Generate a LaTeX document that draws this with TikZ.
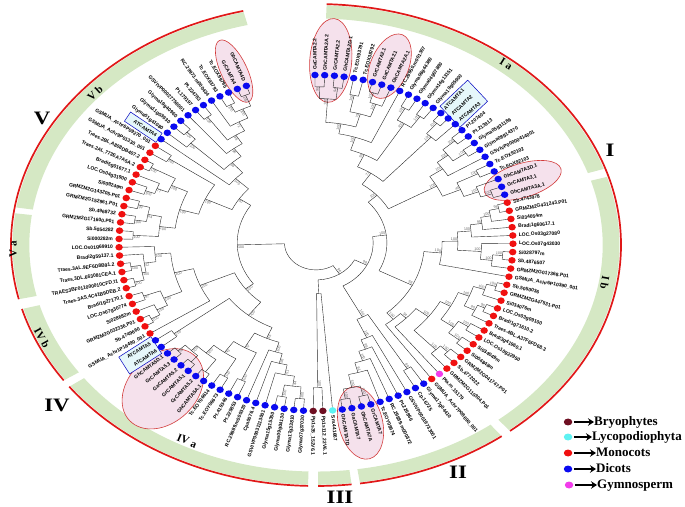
\documentclass[tikz,border=0pt]{standalone}
\usepackage{fontspec}
\setmainfont{Liberation Serif}
\newfontfamily\labfont{Liberation Sans}
\usetikzlibrary{shapes.geometric,arrows.meta}

\definecolor{dic}{HTML}{0A0AF0}
\definecolor{mon}{HTML}{F01010}
\definecolor{bry}{HTML}{6E0F22}
\definecolor{lyc}{HTML}{5EF2F2}
\definecolor{gym}{HTML}{F23CEB}
\definecolor{bandgreen}{HTML}{D5E8C4}
\definecolor{ringred}{HTML}{E01818}
\definecolor{hlpink}{HTML}{F5E1EC}
\definecolor{hlred}{HTML}{D23A3A}
\definecolor{boxcyan}{HTML}{E6F7FA}

\tikzset{
  branch/.style={line width=.4pt, black!85},
  leaf/.style={font=\labfont\bfseries\fontsize{5}{6}\selectfont, inner sep=0pt},
  boot/.style={font=\labfont\fontsize{3.7}{4}\selectfont, text=black!60, inner sep=.5pt},
  hlell/.style={ellipse, draw=hlred, line width=.6pt, fill=hlpink, inner sep=0pt},
  atbox/.style={rectangle, draw=blue!75!black, line width=.5pt, fill=boxcyan, inner sep=0pt},
  grouplab/.style={font=\bfseries\fontsize{19}{20}\selectfont, xscale=1.2},
  bandlab/.style={font=\bfseries\fontsize{11}{12}\selectfont},
  legdot/.style={ellipse, minimum width=8.5pt, minimum height=7pt, inner sep=0pt},
  legtext/.style={font=\bfseries\fontsize{13}{14}\selectfont, inner sep=0pt, anchor=west, text height=8.5pt, text depth=2.5pt},
  legarrow/.style={-{Stealth[length=6pt,width=7.5pt]}, line width=2pt, shorten <=1.5pt},
}

% leaf i sits at angle 90.3-2.83(i-1) on the tip ellipse
\newcommand\leafang[1]{\pgfmathsetmacro\angA{90.3-2.83*((#1)-1)}}
\newcommand\radang{%
  \pgfmathsetmacro\angR{atan2(168*sin(\angA),197*cos(\angA))}%
  \pgfmathtruncatemacro\flipQ{abs(\angR)>92?1:0}}
\newcount\bootno
% clade: first child pos, last child pos, radius, parent radius, bootstrap
\newcommand\clade[5]{%
  \pgfmathsetmacro\angP{90.3-2.83*((#1)-1)}%
  \pgfmathsetmacro\angQ{90.3-2.83*((#2)-1)}%
  \pgfmathsetmacro\angA{(\angP+\angQ)/2}%
  \radang
  \global\advance\bootno by 1
  \draw[branch] (\angP:#3) arc[start angle=\angP, end angle=\angQ, radius=#3];
  \draw[branch] (\angA:#4) -- (\angA:#3);
  \ifnum\flipQ=0
    \node[boot, rotate=\angR, anchor=south east] (bt\the\bootno) at (\angA:#3) {#5};
  \else
    \node[boot, rotate=\angR+180, anchor=north west] (bt\the\bootno) at (\angA:#3) {#5};
  \fi}
\newcommand\hilite[5]{%
  \leafang{#1}\radang
  \path (\angA:1) ++(\angR:#2pt) node[hlell, rotate=\angR, minimum width=2*#3pt, minimum height=2*#4pt] (#5) {};}
\newcommand\atcambox[4]{%
  \leafang{#1}\radang
  \ifnum\flipQ=0
    \node[atbox, rotate=\angR, anchor=west, minimum width=#2pt, minimum height=#3pt] (#4) at (\angA:1.012) {};
  \else
    \node[atbox, rotate=\angR+180, anchor=east, minimum width=#2pt, minimum height=#3pt] (#4) at (\angA:1.012) {};
  \fi}
\newcommand\band[2]{\fill[bandgreen] (#1:.995) arc[start angle=#1, end angle=#2, radius=.995] -- (#2:.94) arc[start angle=#2, end angle=#1, radius=.94] -- cycle;}
\newcommand\redarc[2]{\draw[ringred, line width=1.7pt] (#1:1) arc[start angle=#1, end angle=#2, radius=1];}

\begin{document}
\begin{tikzpicture}[x=1pt,y=1pt]
\useasboundingbox (0,0) rectangle (685,506);

% outer ring
\begin{scope}[shift={(316,261)}, x=305pt, y=241pt]
\band{88}{18.5} \band{16.5}{-50.5} \band{-52.5}{-81.7} \band{-83.3}{-89.6}
\band{-91.5}{-144} \band{-145.8}{-164.6} \band{-167}{-187.6} \band{-189}{-256.2}
\redarc{88}{-50.5} \redarc{-52.5}{-81.7} \redarc{-83.3}{-89.6}
\redarc{-91.5}{-144} \redarc{-145.8}{-164.6} \redarc{-167}{-256.2}
\end{scope}

% tree
\begin{scope}[shift={(316,263)}, x=197pt, y=168pt]
\hilite{2.5}{15}{42}{21}{hlA}
\hilite{8}{20}{34}{19}{hlB}
\hilite{26}{22}{40}{17}{hlC}
\hilite{60.5}{16}{37}{22}{hlD}
\hilite{79.5}{30}{46}{34}{hlE}
\hilite{120.5}{18}{34}{13}{hlF}
\atcambox{16}{38}{29}{boxA}
\atcambox{83.5}{38}{20}{boxB}
\atcambox{110}{38}{11}{boxC}

% group I a
\clade{1}{2}{.93}{.86}{99}
\clade{3}{4}{.93}{.86}{94}
\clade{1.5}{3.5}{.86}{.72}{100}
\clade{5}{6}{.90}{.80}{100}
\clade{7}{8}{.94}{.88}{100}
\clade{7.5}{9}{.88}{.80}{100}
\clade{5.5}{8.25}{.80}{.72}{75}
\clade{2.5}{6.875}{.72}{.66}{100}
\clade{4.6875}{10}{.66}{.58}{100}
\clade{11}{12}{.92}{.84}{100}
\clade{13}{14}{.92}{.84}{100}
\clade{11.5}{13.5}{.84}{.58}{100}
\clade{7.34375}{12.5}{.58}{.50}{98}
\clade{15}{16}{.94}{.86}{100}
\clade{15.5}{17}{.86}{.50}{100}
\clade{9.921875}{16.25}{.50}{.42}{73}
\clade{18}{19}{.93}{.85}{100}
\clade{20}{21}{.93}{.85}{100}
\clade{18.5}{20.5}{.85}{.78}{100}
\clade{19.5}{22}{.78}{.70}{100}
\clade{23}{24}{.92}{.80}{100}
\clade{26}{27}{.94}{.88}{100}
\clade{25}{26.5}{.88}{.80}{100}
\clade{23.5}{25.75}{.80}{.70}{40}
\clade{20.75}{24.625}{.70}{.42}{100}
\clade{13.0859}{22.6875}{.42}{.36}{100}
% group I b
\clade{28}{29}{.95}{.90}{98}
\clade{28.5}{30}{.90}{.85}{100}
\clade{29.25}{31}{.85}{.79}{95}
\clade{30.125}{32}{.79}{.72}{100}
\clade{34}{35}{.95}{.90}{100}
\clade{34.5}{36}{.90}{.84}{100}
\clade{33}{35.25}{.84}{.72}{100}
\clade{31.0625}{34.125}{.72}{.64}{100}
\clade{32.59375}{37}{.64}{.55}{100}
\clade{38}{39}{.95}{.90}{100}
\clade{38.5}{40}{.90}{.84}{100}
\clade{41}{42}{.94}{.90}{98}
\clade{41.5}{43}{.90}{.84}{80}
\clade{39.25}{42.25}{.84}{.78}{100}
\clade{44}{45}{.92}{.86}{100}
\clade{46}{47}{.93}{.86}{100}
\clade{44.5}{46.5}{.86}{.78}{100}
\clade{40.75}{45.5}{.78}{.72}{100}
\clade{48}{49}{.93}{.88}{100}
\clade{48.5}{50}{.88}{.72}{100}
\clade{43.125}{49.25}{.72}{.64}{100}
\clade{46.1875}{51}{.64}{.60}{94}
\clade{48.59375}{52}{.60}{.55}{100}
\clade{34.796875}{50.296875}{.55}{.36}{98}
\clade{17.8867}{42.5469}{.36}{.29}{100}
% group II
\clade{53}{54}{.88}{.50}{89}
\clade{59}{60}{.94}{.88}{100}
\clade{61}{62}{.94}{.88}{100}
\clade{59.5}{61.5}{.88}{.80}{100}
\clade{58}{60.5}{.80}{.74}{61}
\clade{57}{59.25}{.74}{.68}{100}
\clade{56}{58.125}{.68}{.62}{89}
\clade{55}{57.0625}{.62}{.50}{100}
\clade{53.5}{56.03125}{.50}{.29}{100}
% group III and backbone
\clade{64}{65}{.86}{.30}{100}
\clade{63}{64.5}{.30}{.22}{}
\clade{30.2168}{54.7656}{.29}{.22}{98}
\clade{42.4912}{63.75}{.22}{.16}{96}
% group IV
\clade{66}{67}{.93}{.86}{100}
\clade{68}{69}{.93}{.86}{100}
\clade{66.5}{68.5}{.86}{.80}{44}
\clade{67.5}{70}{.80}{.74}{51}
\clade{68.75}{71}{.74}{.68}{96}
\clade{69.875}{72}{.68}{.62}{100}
\clade{73}{74}{.90}{.72}{100}
\clade{75}{76}{.92}{.80}{100}
\clade{77}{78}{.95}{.86}{}
\clade{79}{80}{.95}{.90}{}
\clade{81}{82}{.95}{.90}{59}
\clade{79.5}{81.5}{.90}{.86}{100}
\clade{77.5}{80.5}{.86}{.80}{100}
\clade{75.5}{79}{.80}{.72}{43}
\clade{73.5}{77.25}{.72}{.62}{57}
\clade{70.9375}{75.375}{.62}{.55}{55}
\clade{83}{84}{.90}{.55}{100}
\clade{73.15625}{83.5}{.55}{.45}{100}
\clade{86}{87}{.95}{.90}{100}
\clade{86.5}{88}{.90}{.84}{100}
\clade{89}{90}{.93}{.84}{97}
\clade{87.25}{89.5}{.84}{.74}{100}
\clade{91}{92}{.95}{.90}{100}
\clade{93}{94}{.95}{.90}{100}
\clade{91.5}{93.5}{.90}{.88}{100}
\clade{92.5}{95}{.88}{.82}{42}
\clade{93.75}{96}{.82}{.74}{100}
\clade{88.375}{94.875}{.74}{.64}{100}
\clade{85}{91.625}{.64}{.45}{100}
\clade{78.328125}{88.3125}{.45}{.40}{100}
% group V
\clade{97}{98}{.93}{.80}{100}
\clade{99}{100}{.93}{.87}{100}
\clade{101}{102}{.93}{.87}{99}
\clade{99.5}{101.5}{.87}{.80}{64}
\clade{97.5}{100.5}{.80}{.72}{100}
\clade{103}{104}{.92}{.87}{100}
\clade{103.5}{105}{.87}{.81}{77}
\clade{106}{107}{.95}{.81}{100}
\clade{104.25}{106.5}{.81}{.72}{100}
\clade{99}{105.375}{.72}{.62}{100}
\clade{108}{109}{.90}{.62}{100}
\clade{102.1875}{108.5}{.62}{.47}{100}
\clade{120}{121}{.95}{.88}{100}
\clade{118}{119}{.93}{.88}{100}
\clade{118.5}{120.5}{.88}{.82}{100}
\clade{117}{119.5}{.82}{.76}{72}
\clade{115}{116}{.93}{.76}{100}
\clade{115.5}{118.25}{.76}{.70}{98}
\clade{114}{116.875}{.70}{.64}{96}
\clade{112}{113}{.93}{.87}{100}
\clade{111}{112.5}{.87}{.64}{100}
\clade{111.75}{115.4375}{.64}{.56}{95}
\clade{110}{113.59375}{.56}{.47}{100}
\clade{105.34375}{111.796875}{.47}{.40}{90}
\clade{83.3203}{108.5703}{.40}{.16}{100}
\clade{53.1206}{95.9453}{.16}{.16}{}

% leaves: index/name/colour/parent radius
\foreach \i/\nm/\col/\rp in {
1/GaCAMTA2.2/dic/.93, 2/GhCAMTA2A.2/dic/.93, 3/GrCAMTA2.2/dic/.93, 4/GhCAMTA2D.1/dic/.93,
5/Tc.EOX93791/dic/.90, 6/Tc.EOX38792/dic/.90, 7/GrCAMTA2.1/dic/.94, 8/GaCAMTA2.1/dic/.94,
9/GhCAMTA2A.1/dic/.88, 10/RC.29950.m001307/dic/.66, 11/Glyma06g44380/dic/.92, 12/Glyma04g07880/dic/.92,
13/Glyma14g13151/dic/.92, 14/Glyma19g05900/dic/.92, 15/ATCAMTA1/dic/.94, 16/ATCAMTA2/dic/.94,
17/ATCAMTA3/dic/.86, 18/Pt.207404/dic/.93, 19/Pt.213913/dic/.93, 20/Glyma05g31186/dic/.93,
21/Glyma08g14370/dic/.93, 22/GSVIVP00000414001/dic/.78, 23/Tc.EOX92102/dic/.92, 24/Tc.EOX92103/dic/.92,
25/GhCAMTA3D.1/dic/.88, 26/GrCAMTA3.1/dic/.94, 27/GhCAMTA3A.1/dic/.94,
28/Sb.4743978/mon/.95, 29/GRMZM2G431243.P01/mon/.95, 30/Si034054m/mon/.90, 31/Bradi1g60617.1/mon/.85,
32/LOC.Os03g27080/mon/.79, 33/LOC.Os07g43030/mon/.84, 34/Si028797m/mon/.95, 35/Sb.4876507/mon/.95,
36/GRMZM2G017368.P01/mon/.90, 37/GSMUA\_Achr6P10390\_001/mon/.64, 38/Sb.5050036/mon/.95,
39/GRMZM2G447531.P01/mon/.95, 40/Si034076m/mon/.90, 41/LOC.Os03g09100/mon/.94, 42/Bradi1g71610.2/mon/.94,
43/Traes.4BL.A37F6FD68.3/mon/.90, 44/Bradi3g41960.1/mon/.92, 45/LOC.Os10g22950/mon/.92,
46/Si034049m/mon/.93, 47/Si004848m/mon/.93, 48/GRMZM2G041747.P01/mon/.93, 49/Sb.4772022/mon/.93,
50/GRMZM2G110304.P01/mon/.88, 51/Pta.m.15179/gym/.64, 52/GSMUA\_Achr7P08690\_001/mon/.60,
53/Glyma17g04410/dic/.88, 54/Cp.16725/dic/.88, 55/GSVIVP00019733001/dic/.62, 56/Pt.226866/dic/.68,
57/RC.29889.m000372/dic/.74, 58/Tc.EOY08674/dic/.80, 59/GrCAMTA7/dic/.94, 60/GhCAMTA7A/dic/.94,
61/GaCAMTA7/dic/.94, 62/GhCAMTA7D/dic/.94,
63/Sm.441667/lyc/.30, 64/Pp1s112\_22V6.1/bry/.86, 65/Pp1s35\_152V6.1/bry/.86,
66/Glyma07g37030/dic/.93, 67/Glyma17g33810/dic/.93, 68/Glyma09g04130/dic/.93, 69/Glyma15g15350/dic/.93,
70/GSVIVP00031113001/dic/.80, 71/Cpa0076.4/dic/.74, 72/RC.29889.m000320/dic/.68, 73/Pt.225853/dic/.90,
74/Pt.419346/dic/.90, 75/Tc.EOY06673/dic/.92, 76/Tc.EOY06614/dic/.92, 77/GhCAMTA5A.1/dic/.95,
78/GrCAMTA5.2/dic/.95, 79/GrCAMTA5.1/dic/.95, 80/GaCAMTA5.2/dic/.95, 81/GrCAMTA5.3/dic/.95,
82/GhCAMTA5D.1/dic/.95, 83/ATCAMTA6/dic/.90, 84/ATCAMTA5/dic/.90,
85/GSMUA\_Achr1P16490\_001/mon/.64, 86/Sb.4749660/mon/.95, 87/GRMZM2G032336.P01/mon/.95,
88/Si028682m/mon/.90, 89/LOC.Os07g30774/mon/.93, 90/Bradi1g27170.1/mon/.93,
91/Traes.3AS.4C41B9DEB.2/mon/.95, 92/TRAES3BF011000010CFD.t1/mon/.95, 93/Traes.3DL.663081CEA.1/mon/.95,
94/Traes.3AL.9EF6D8B91.2/mon/.95, 95/Bradi2g59137.1/mon/.88, 96/LOC.Os01g69910/mon/.82,
97/Si000282m/mon/.93, 98/Sb.5054282/mon/.93, 99/GRMZM2G171600.P01/mon/.93, 100/Sb.4968732/mon/.93,
101/GRMZM2G152961.P01/mon/.93, 102/GRMZM2G143205.P01/mon/.93, 103/Si009249m/mon/.92,
104/LOC.Os04g31900/mon/.92, 105/Bradi5g01677.1/mon/.87, 106/Traes.2AL.773EA7A5A.2/mon/.95,
107/Traes.2BL.A808DB407.2/mon/.95, 108/GSMUA\_Achr9P01330\_001/mon/.90, 109/GSMUA\_Achr6P09270\_001/mon/.90,
110/ATCAMTA4/dic/.56, 111/Glyma01g41080/dic/.87, 112/Glyma11g03930/dic/.93, 113/Glyma19g40960/dic/.93,
114/GSVIVP00027756001/dic/.70, 115/Pt.179197/dic/.93, 116/Pt.224783/dic/.93, 117/RC.29973.m000434/dic/.82,
118/Tc.EOX93793/dic/.93, 119/Tc.EOX99795/dic/.93, 120/GrCAMTA4/dic/.95, 121/GhCAMTA4D/dic/.95}{
  \leafang{\i}\radang
  \draw[branch] (\angA:\rp) -- (\angA:1);
  \fill[\col] (\angA:1) ellipse[x radius=3.7pt, y radius=3.3pt];
  \ifnum\flipQ=0
    \node[leaf, rotate=\angR, anchor=west] (l\i) at (\angA:1.03) {\nm};
  \else
    \node[leaf, rotate=\angR+180, anchor=east] (l\i) at (\angA:1.03) {\nm};
  \fi
}
\end{scope}

% group names
\node[grouplab] (gV) at (42,388) {V};
\node[grouplab] (gI) at (610,356) {I};
\node[grouplab] (gIV) at (57,101) {IV};
\node[grouplab] (gII) at (458,34) {II};
\node[grouplab] (gIII) at (340,9) {III};
\node[bandlab, rotate=-32] (bIa) at (506,442) {I a};
\node[bandlab, rotate=-100] (bIb) at (605,223) {I b};
\node[bandlab, rotate=42] (bVb) at (95,413) {V b};
\node[bandlab, rotate=90] (bVa) at (13,257) {V a};
\node[bandlab, rotate=-61] (bIVb) at (42,168) {IV b};
\node[bandlab, rotate=-23] (bIVa) at (187,65) {IV a};

% legend
\node[legdot, fill=bry] (bryd) at (568,84) {};
\node[legtext] (bryt) at (594,84) {Bryophytes};
\node[legdot, fill=lyc] (lycd) at (568,69) {};
\node[legtext] (lyct) at (592,69) {Lycopodiophyta};
\node[legdot, fill=mon] (mond) at (568,53) {};
\node[legtext] (mont) at (596,53) {Monocots};
\node[legdot, fill=dic] (dicd) at (568,37) {};
\node[legtext] (dict) at (596,37) {Dicots};
\node[legdot, fill=gym] (gymd) at (569,21) {};
\node[legtext] (gymt) at (597,21) {Gymnosperm};
\draw[legarrow] (bryd) -- (bryt);
\draw[legarrow] (lycd) -- (lyct);
\draw[legarrow] (mond) -- (mont);
\draw[legarrow] (dicd) -- (dict);
\draw[legarrow] (gymd) -- (gymt);
\end{tikzpicture}
\end{document}
